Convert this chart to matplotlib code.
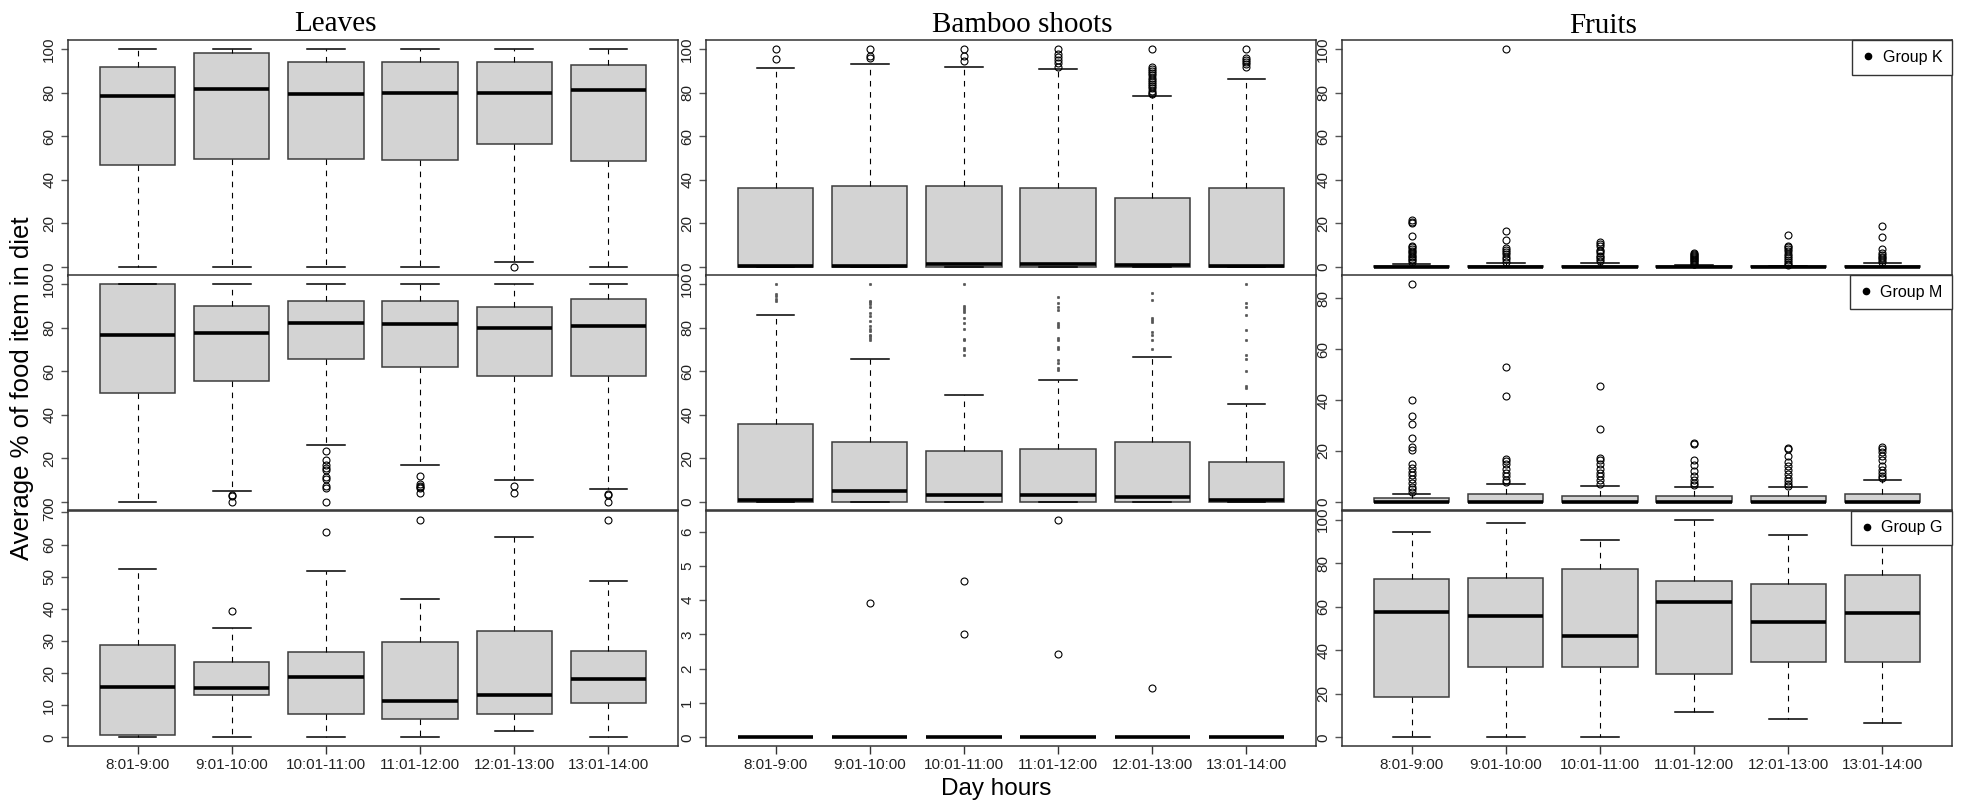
import matplotlib
matplotlib.use('Agg')
import matplotlib.pyplot as plt
from matplotlib.lines import Line2D
import numpy as np

plt.rcParams['font.family'] = ['Liberation Sans', 'DejaVu Sans']

hours = ['8:01-9:00', '9:01-10:00', '10:01-11:00', '11:01-12:00', '12:01-13:00', '13:01-14:00']
foods = ['Leaves', 'Bamboo shoots', 'Fruits']
groups = ['Group K', 'Group M', 'Group G']

# box stats per hour, rows: whisker low, q1, median, q3, whisker high
leaves_k = [[0, 0, 0, 0, 2.5, 0],
            [46.9, 49.8, 49.8, 49.2, 56.4, 48.8],
            [78.5, 81.9, 79.6, 79.9, 79.9, 81.4],
            [91.9, 98.3, 94.3, 94.3, 94.3, 92.8],
            [100, 100, 100, 100, 100, 100]]
leaves_k_out = [[], [], [], [], [0], []]

bamboo_k = [[0, 0, 0, 0, 0, 0],
            [0, 0, 0, 0, 0, 0],
            [0.5, 0.5, 1.6, 1.2, 0.9, 0.5],
            [36.3, 37.3, 37.0, 36.3, 31.6, 36.3],
            [91.4, 93.4, 92.0, 91.0, 78.5, 86.2]]
bamboo_k_out = [[100, 95.4],
                [100, 97, 96],
                [100, 97, 94.5],
                [100, 98, 96.5, 95, 93.5, 92],
                [100, 92, 91, 90, 89, 88, 87, 86, 85, 84, 83, 82, 81, 80, 79.5],
                [100, 96, 95, 94, 93, 92]]

fruits_k = [[0, 0, 0, 0, 0, 0],
            [0, 0, 0, 0, 0, 0],
            [0, 0, 0, 0, 0, 0],
            [0.4, 0.4, 0.4, 0.4, 0.3, 0.4],
            [1.5, 2.0, 2.0, 0.9, 0.4, 2.0]]
fruits_k_out = [[21.5, 20.8, 20.2, 14.3, 9.8, 9.2, 8.4, 7.5, 6.8, 6.0, 5.2, 4.5, 3.7, 3.0, 2.2],
                [100, 16.4, 12.5, 8.5, 7.8, 7.0, 5.8, 4.8, 3.5, 2.5],
                [11.4, 10.6, 9.8, 8.0, 7.2, 6.2, 5.2, 4.4, 3.5, 2.6],
                [6.6, 6.1, 5.6, 5.1, 4.6, 4.1, 3.6, 3.1, 2.6, 2.1, 1.6, 1.2],
                [14.7, 9.7, 9.0, 8.2, 7.5, 6.0, 5.2, 4.3, 3.4, 2.5, 1.6, 0.8],
                [18.9, 13.8, 8.3, 6.3, 5.6, 4.8, 4.0, 3.2, 2.5]]

leaves_m = [[0, 4.9, 26.2, 16.8, 10.1, 5.8],
            [50.0, 55.6, 65.5, 61.9, 57.6, 57.9],
            [76.4, 77.7, 82.0, 81.6, 80.0, 80.5],
            [100, 89.9, 92.4, 92.4, 89.5, 93.3],
            [100, 100, 100, 100, 100, 100]]
leaves_m_out = [[],
                [3.2, 2.8, 0],
                [23.3, 19.2, 16.8, 15.5, 14.8, 11.2, 10.6, 7.3, 6.4, 0],
                [12.0, 8.0, 7.3, 6.9, 6.4, 4.2],
                [7.2, 4.2],
                [3.8, 3.0, 0]]

bamboo_m = [[0, 0, 0, 0, 0, 0],
            [0, 0, 0, 0, 0, 0],
            [0.6, 5.0, 2.9, 2.9, 2.0, 0.9],
            [35.8, 27.6, 23.3, 24.2, 27.6, 18.1],
            [85.8, 65.4, 48.9, 55.8, 66.6, 44.8]]
bamboo_m_out = [[100, 95.3, 94.7, 93.1, 92.1],
                [100, 92.2, 91.6, 90.7, 89.6, 86.9, 85.1, 83.1, 80.8, 79.3, 78.2, 76.7, 75.9, 75.2, 74.4],
                [100, 89.9, 88.9, 88.0, 87.0, 84.6, 82.0, 79.4, 74.8, 74.4, 70.6, 69.8, 67.5],
                [94.1, 91.5, 89.3, 88.1, 82.3, 81.4, 80.3, 75.3, 74.5, 71.0, 70.1, 64.9, 63.7, 61.3, 60.7],
                [95.7, 92.7, 84.5, 83.5, 82.5, 78.0, 76.5, 74.4, 70.3],
                [100, 91.2, 89.5, 85.8, 79.0, 74.2, 67.4, 65.5, 59.9, 53.2, 52.1]]

fruits_m = [[0, 0, 0, 0, 0, 0],
            [0, 0, 0, 0, 0, 0],
            [0, 0, 0, 0, 0, 0],
            [1.3, 2.9, 2.3, 2.3, 2.3, 3.1],
            [2.9, 6.9, 6.3, 5.7, 5.7, 8.6]]
fruits_m_out = [[85.6, 40, 33.6, 30.5, 25, 21.4, 20.2, 15, 13.1, 11.9, 10.4, 9, 7.3, 5.9, 5, 4],
                [53, 41.6, 17, 16.2, 15, 12.8, 11.5, 10, 8.5, 7.6],
                [45.7, 28.5, 17.2, 16.4, 15, 13, 11.5, 10.2, 8.5, 7],
                [23.1, 22.6, 16.3, 14.4, 12.1, 10.1, 8.6, 7.2, 6.5],
                [21.3, 20.6, 18, 15.7, 14.2, 12.5, 11.1, 9.5, 8.1, 6.9, 6.2],
                [21.7, 20.9, 19.6, 18.1, 16.3, 14.2, 12.6, 11.2, 10.1, 9.2]]

leaves_g = [[0, 0, 0, 0, 2.0, 0],
            [0.6, 13.3, 7.1, 5.8, 7.1, 10.7],
            [15.6, 15.2, 18.8, 11.3, 13.2, 18.1],
            [28.6, 23.4, 26.6, 29.7, 33.1, 26.8],
            [52.3, 34.1, 51.9, 43.1, 62.3, 48.6]]
leaves_g_out = [[], [39.2], [63.8], [67.5], [], [67.8]]

bamboo_g = [[0, 0, 0, 0, 0, 0],
            [0, 0, 0, 0, 0, 0],
            [0, 0, 0, 0, 0, 0],
            [0, 0, 0, 0, 0, 0],
            [0, 0, 0, 0, 0, 0]]
bamboo_g_out = [[], [3.92], [4.55, 3.0], [6.35, 2.43], [1.45], []]

fruits_g = [[0, 0, 0, 11.5, 8.6, 6.7],
            [18.6, 32.5, 32.5, 29.1, 34.4, 34.4],
            [57.4, 55.5, 46.5, 62.1, 53.1, 56.9],
            [72.5, 73.2, 77.5, 71.9, 70.2, 74.5],
            [94.3, 98.2, 90.5, 100, 92.9, 97]]
fruits_g_out = [[], [], [], [], [], []]

panels = [[(leaves_k, leaves_k_out), (bamboo_k, bamboo_k_out), (fruits_k, fruits_k_out)],
          [(leaves_m, leaves_m_out), (bamboo_m, bamboo_m_out), (fruits_m, fruits_m_out)],
          [(leaves_g, leaves_g_out), (bamboo_g, bamboo_g_out), (fruits_g, fruits_g_out)]]

# y tick spacing per row/column
tick_steps = [[20, 20, 20], [20, 20, 20], [10, 1, 20]]

# layout in pixels
W, H = 1964, 805
col_left = [68, 706, 1342]
col_w = 610
row_top = [40.5, 275.3, 510.8]
row_h = 235.2

fig = plt.figure(figsize=(W / 100, H / 100), dpi=100)

n = len(hours)
pos = np.arange(1, n + 1)

for r in range(3):
    for c in range(3):
        stats_tab, outs = panels[r][c]
        lo, q1, med, q3, hi = stats_tab
        stats = [dict(whislo=lo[i], q1=q1[i], med=med[i], q3=q3[i], whishi=hi[i],
                      fliers=outs[i]) for i in range(n)]

        ax = fig.add_axes([col_left[c] / W, 1 - (row_top[r] + row_h) / H, col_w / W, row_h / H])

        # tiny points for bamboo of group M
        if (r, c) == (1, 1):
            fprops = dict(marker='o', markerfacecolor='#555555', markeredgecolor='#555555',
                          markersize=1.8, markeredgewidth=0.4)
        else:
            fprops = dict(marker='o', markerfacecolor='none', markeredgecolor='black',
                          markersize=5, markeredgewidth=0.8)

        ax.bxp(stats, positions=pos, widths=0.8, capwidths=0.4, patch_artist=True,
               boxprops=dict(facecolor='#d3d3d3', edgecolor='#3c3c3c', linewidth=1.1),
               medianprops=dict(color='black', linewidth=2.6, solid_capstyle='butt'),
               whiskerprops=dict(color='black', linewidth=0.8, linestyle=(0, (5, 5))),
               capprops=dict(color='black', linewidth=1.1),
               flierprops=fprops)

        # R-like axis ranges (4% padding)
        vals = np.concatenate([np.ravel(stats_tab)] + [np.asarray(o, float) for o in outs if len(o)])
        vmin, vmax = vals.min(), vals.max()
        pad = 0.04 * (vmax - vmin)
        ytop = vmax + pad
        ax.set_ylim(vmin - pad, ytop)
        ax.set_xlim(0.5 - 0.04 * n, n + 0.5 + 0.04 * n)

        step = tick_steps[r][c]
        yt = np.arange(0, ytop, step)
        ax.set_yticks(yt)
        ax.set_yticklabels([f'{v:g}' for v in yt], rotation=90, va='center')
        ax.tick_params(axis='y', length=5, width=1, pad=3.5, labelsize=11,
                       labelcolor='#222222', color='#555555')

        if r == 2:
            ax.set_xticks(pos)
            ax.set_xticklabels(hours)
            ax.tick_params(axis='x', length=5.5, width=1, pad=3, labelsize=11,
                           labelcolor='#222222', color='#333333')
        else:
            ax.set_xticks([])

        for sp in ax.spines.values():
            sp.set_color('#333333')
            sp.set_linewidth(1.1)

        if c == 2:
            h = Line2D([], [], ls='none', marker='o', color='black', markersize=4.5)
            leg = ax.legend(handles=[h], labels=[groups[r]], loc='upper right',
                            borderaxespad=0, fancybox=False, framealpha=1,
                            edgecolor='#333333', fontsize=11.5, handlelength=0.8,
                            handletextpad=0.5, borderpad=0.6)
            leg.get_frame().set_linewidth(1.0)

# column titles
title_x = [335, 1022, 1603]
title_y = [31, 32, 33]
for i, name in enumerate(foods):
    fig.text(title_x[i] / W, 1 - title_y[i] / H, name, ha='center', va='baseline',
             family='Liberation Serif', fontsize=21)

fig.text(22 / W, 1 - 388 / H, 'Average % of food item in diet', rotation=90,
         ha='center', va='center', fontsize=18.5)
fig.text(996 / W, 1 - 789 / H, 'Day hours', ha='center', va='center', fontsize=17.5)

fig.savefig('out.png', dpi=100)
